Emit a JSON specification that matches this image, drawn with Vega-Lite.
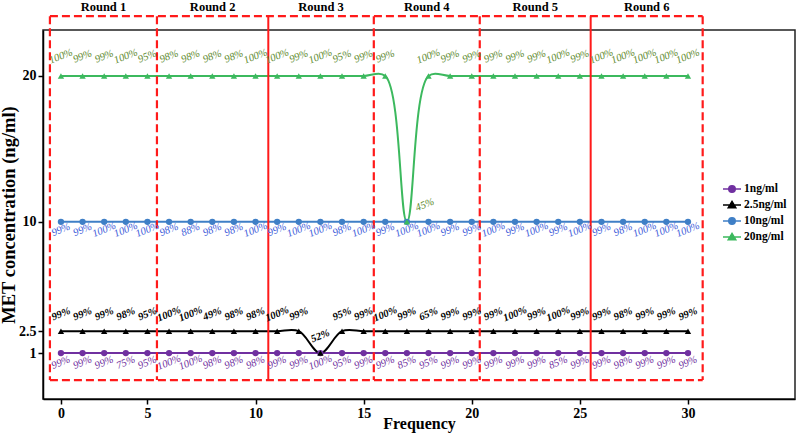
{
  "$schema": "https://vega.github.io/schema/vega-lite/v6.json",
  "width": 752,
  "height": 369,
  "autosize": {"type": "none"},
  "padding": {"left": 43, "top": 30, "right": 1, "bottom": 35},
  "background": "white",
  "view": {"stroke": "#222", "strokeWidth": 1.5},
  "config": {
    "font": "Liberation Serif",
    "axis": {"labelFont": "Liberation Serif", "labelFontWeight": "bold", "labelFontSize": 14, "labelColor": "black", "titleFont": "Liberation Serif", "titleFontWeight": "bold", "titleColor": "black", "domainColor": "black", "domainWidth": 1.5, "tickColor": "black", "tickWidth": 1.5, "tickSize": 5, "grid": false, "labelPadding": 2}
  },
  "datasets": {
    "rounds": [
      {"r": "Round 1", "a": 0.49, "b": 5.44, "top": 24.1},
      {"r": "Round 2", "a": 5.44, "b": 10.59, "top": 24.1},
      {"r": "Round 3", "a": 10.59, "b": 15.47, "top": 24.1},
      {"r": "Round 4", "a": 15.47, "b": 20.37, "top": 24.1},
      {"r": "Round 5", "a": 20.37, "b": 25.5, "top": 24.1},
      {"r": "Round 6", "a": 25.5, "b": 30.68, "top": 24.1}
    ],
    "vedges": [
      {"a": 0.49, "d": "dash", "top": 24.1, "bot": -0.85},
      {"a": 5.44, "d": "dash", "top": 24.1, "bot": -0.85},
      {"a": 10.59, "d": "solid", "top": 24.1, "bot": -0.85},
      {"a": 15.47, "d": "dash", "top": 24.1, "bot": -0.85},
      {"a": 20.37, "d": "dash", "top": 24.1, "bot": -0.85},
      {"a": 25.5, "d": "solid", "top": 24.1, "bot": -0.85},
      {"a": 30.68, "d": "dash", "top": 24.1, "bot": -0.85}
    ],
    "hedges": [
      {"a": 0.49, "b": 30.68, "y": 24.1},
      {"a": 0.49, "b": 30.68, "y": -0.85}
    ],
    "main": [
    {"s":"1ng/ml","x":1,"y":1,"p":"99%"},{"s":"1ng/ml","x":2,"y":1,"p":"99%"},{"s":"1ng/ml","x":3,"y":1,"p":"99%"},{"s":"1ng/ml","x":4,"y":1,"p":"75%"},{"s":"1ng/ml","x":5,"y":1,"p":"95%"},
    {"s":"1ng/ml","x":6,"y":1,"p":"100%"},{"s":"1ng/ml","x":7,"y":1,"p":"100%"},{"s":"1ng/ml","x":8,"y":1,"p":"98%"},{"s":"1ng/ml","x":9,"y":1,"p":"98%"},{"s":"1ng/ml","x":10,"y":1,"p":"98%"},
    {"s":"1ng/ml","x":11,"y":1,"p":"99%"},{"s":"1ng/ml","x":12,"y":1,"p":"99%"},{"s":"1ng/ml","x":13,"y":1,"p":"100%"},{"s":"1ng/ml","x":14,"y":1,"p":"95%"},{"s":"1ng/ml","x":15,"y":1,"p":"99%"},
    {"s":"1ng/ml","x":16,"y":1,"p":"99%"},{"s":"1ng/ml","x":17,"y":1,"p":"85%"},{"s":"1ng/ml","x":18,"y":1,"p":"95%"},{"s":"1ng/ml","x":19,"y":1,"p":"99%"},{"s":"1ng/ml","x":20,"y":1,"p":"99%"},
    {"s":"1ng/ml","x":21,"y":1,"p":"99%"},{"s":"1ng/ml","x":22,"y":1,"p":"99%"},{"s":"1ng/ml","x":23,"y":1,"p":"99%"},{"s":"1ng/ml","x":24,"y":1,"p":"85%"},{"s":"1ng/ml","x":25,"y":1,"p":"99%"},
    {"s":"1ng/ml","x":26,"y":1,"p":"99%"},{"s":"1ng/ml","x":27,"y":1,"p":"98%"},{"s":"1ng/ml","x":28,"y":1,"p":"99%"},{"s":"1ng/ml","x":29,"y":1,"p":"99%"},{"s":"1ng/ml","x":30,"y":1,"p":"99%"},
    {"s":"2.5ng/ml","x":1,"y":2.5,"p":"99%"},{"s":"2.5ng/ml","x":2,"y":2.5,"p":"99%"},{"s":"2.5ng/ml","x":3,"y":2.5,"p":"99%"},{"s":"2.5ng/ml","x":4,"y":2.5,"p":"98%"},{"s":"2.5ng/ml","x":5,"y":2.5,"p":"95%"},
    {"s":"2.5ng/ml","x":6,"y":2.5,"p":"100%"},{"s":"2.5ng/ml","x":7,"y":2.5,"p":"100%"},{"s":"2.5ng/ml","x":8,"y":2.5,"p":"49%"},{"s":"2.5ng/ml","x":9,"y":2.5,"p":"98%"},{"s":"2.5ng/ml","x":10,"y":2.5,"p":"98%"},
    {"s":"2.5ng/ml","x":11,"y":2.5,"p":"100%"},{"s":"2.5ng/ml","x":12,"y":2.5,"p":"99%"},{"s":"2.5ng/ml","x":13,"y":1,"p":"52%"},{"s":"2.5ng/ml","x":14,"y":2.5,"p":"95%"},{"s":"2.5ng/ml","x":15,"y":2.5,"p":"99%"},
    {"s":"2.5ng/ml","x":16,"y":2.5,"p":"100%"},{"s":"2.5ng/ml","x":17,"y":2.5,"p":"99%"},{"s":"2.5ng/ml","x":18,"y":2.5,"p":"65%"},{"s":"2.5ng/ml","x":19,"y":2.5,"p":"99%"},{"s":"2.5ng/ml","x":20,"y":2.5,"p":"99%"},
    {"s":"2.5ng/ml","x":21,"y":2.5,"p":"99%"},{"s":"2.5ng/ml","x":22,"y":2.5,"p":"100%"},{"s":"2.5ng/ml","x":23,"y":2.5,"p":"99%"},{"s":"2.5ng/ml","x":24,"y":2.5,"p":"100%"},{"s":"2.5ng/ml","x":25,"y":2.5,"p":"99%"},
    {"s":"2.5ng/ml","x":26,"y":2.5,"p":"99%"},{"s":"2.5ng/ml","x":27,"y":2.5,"p":"98%"},{"s":"2.5ng/ml","x":28,"y":2.5,"p":"99%"},{"s":"2.5ng/ml","x":29,"y":2.5,"p":"99%"},{"s":"2.5ng/ml","x":30,"y":2.5,"p":"99%"},
    {"s":"10ng/ml","x":1,"y":10,"p":"99%"},{"s":"10ng/ml","x":2,"y":10,"p":"99%"},{"s":"10ng/ml","x":3,"y":10,"p":"100%"},{"s":"10ng/ml","x":4,"y":10,"p":"100%"},{"s":"10ng/ml","x":5,"y":10,"p":"100%"},
    {"s":"10ng/ml","x":6,"y":10,"p":"98%"},{"s":"10ng/ml","x":7,"y":10,"p":"88%"},{"s":"10ng/ml","x":8,"y":10,"p":"98%"},{"s":"10ng/ml","x":9,"y":10,"p":"98%"},{"s":"10ng/ml","x":10,"y":10,"p":"100%"},
    {"s":"10ng/ml","x":11,"y":10,"p":"99%"},{"s":"10ng/ml","x":12,"y":10,"p":"100%"},{"s":"10ng/ml","x":13,"y":10,"p":"100%"},{"s":"10ng/ml","x":14,"y":10,"p":"98%"},{"s":"10ng/ml","x":15,"y":10,"p":"100%"},
    {"s":"10ng/ml","x":16,"y":10,"p":"99%"},{"s":"10ng/ml","x":17,"y":10,"p":"100%"},{"s":"10ng/ml","x":18,"y":10,"p":"100%"},{"s":"10ng/ml","x":19,"y":10,"p":"99%"},{"s":"10ng/ml","x":20,"y":10,"p":"99%"},
    {"s":"10ng/ml","x":21,"y":10,"p":"100%"},{"s":"10ng/ml","x":22,"y":10,"p":"99%"},{"s":"10ng/ml","x":23,"y":10,"p":"100%"},{"s":"10ng/ml","x":24,"y":10,"p":"99%"},{"s":"10ng/ml","x":25,"y":10,"p":"100%"},
    {"s":"10ng/ml","x":26,"y":10,"p":"99%"},{"s":"10ng/ml","x":27,"y":10,"p":"98%"},{"s":"10ng/ml","x":28,"y":10,"p":"100%"},{"s":"10ng/ml","x":29,"y":10,"p":"100%"},{"s":"10ng/ml","x":30,"y":10,"p":"100%"},
    {"s":"20ng/ml","x":1,"y":20,"p":"100%"},{"s":"20ng/ml","x":2,"y":20,"p":"99%"},{"s":"20ng/ml","x":3,"y":20,"p":"99%"},{"s":"20ng/ml","x":4,"y":20,"p":"100%"},{"s":"20ng/ml","x":5,"y":20,"p":"95%"},
    {"s":"20ng/ml","x":6,"y":20,"p":"98%"},{"s":"20ng/ml","x":7,"y":20,"p":"98%"},{"s":"20ng/ml","x":8,"y":20,"p":"98%"},{"s":"20ng/ml","x":9,"y":20,"p":"98%"},{"s":"20ng/ml","x":10,"y":20,"p":"100%"},
    {"s":"20ng/ml","x":11,"y":20,"p":"100%"},{"s":"20ng/ml","x":12,"y":20,"p":"99%"},{"s":"20ng/ml","x":13,"y":20,"p":"100%"},{"s":"20ng/ml","x":14,"y":20,"p":"95%"},{"s":"20ng/ml","x":15,"y":20,"p":"99%"},
    {"s":"20ng/ml","x":16,"y":20,"p":"99%"},{"s":"20ng/ml","x":17,"y":10,"p":"45%"},{"s":"20ng/ml","x":18,"y":20,"p":"100%"},{"s":"20ng/ml","x":19,"y":20,"p":"99%"},{"s":"20ng/ml","x":20,"y":20,"p":"99%"},
    {"s":"20ng/ml","x":21,"y":20,"p":"99%"},{"s":"20ng/ml","x":22,"y":20,"p":"99%"},{"s":"20ng/ml","x":23,"y":20,"p":"99%"},{"s":"20ng/ml","x":24,"y":20,"p":"100%"},{"s":"20ng/ml","x":25,"y":20,"p":"99%"},
    {"s":"20ng/ml","x":26,"y":20,"p":"100%"},{"s":"20ng/ml","x":27,"y":20,"p":"100%"},{"s":"20ng/ml","x":28,"y":20,"p":"100%"},{"s":"20ng/ml","x":29,"y":20,"p":"100%"},{"s":"20ng/ml","x":30,"y":20,"p":"100%"}
    ]
  },
  "layer": [
    {
      "data": {"name": "main"},
      "mark": {"type": "line", "strokeWidth": 2, "interpolate": "catmull-rom"},
      "encoding": {
        "x": {"field": "x", "type": "quantitative", "scale": {"domain": [0.17, 34.95], "nice": false, "zero": false},
          "axis": {"title": "Frequency", "titleFontSize": 16, "titlePadding": -5, "values": [1, 5, 10, 15, 20, 25, 30], "labelExpr": "datum.value == 1 ? '0' : datum.label"}},
        "y": {"field": "y", "type": "quantitative", "scale": {"domain": [-2.15, 23.15], "nice": false, "zero": false},
          "axis": {"title": "MET concentration (ng/ml)", "titleFontSize": 18.5, "titlePadding": 0, "values": [1, 2.5, 10, 20], "labelExpr": "datum.value == 2.5 ? '2.5' : format(datum.value, 'd')"}},
        "color": {"field": "s", "type": "nominal",
          "scale": {"domain": ["1ng/ml", "2.5ng/ml", "10ng/ml", "20ng/ml"], "range": ["#7030A0", "#000000", "#3F7FC6", "#3CB95E"]},
          "legend": {"orient": "none", "legendX": 679, "legendY": 152, "title": null, "labelFont": "Liberation Serif", "labelFontWeight": "bold", "labelFontSize": 11.5, "labelColor": "black", "symbolSize": 324, "clipHeight": 14, "rowPadding": 2, "labelOffset": 2,
            "encode": {"symbols": {"update": {
              "shape": {"signal": "(datum.value == '1ng/ml' || datum.value == '10ng/ml') ? 'M-1,0L1,0M0.36,0A0.36,0.36,0,1,1,-0.36,0A0.36,0.36,0,1,1,0.36,0Z' : 'M-1,0L1,0M0,-0.4L0.42,0.3L-0.42,0.3Z'"},
              "fill": {"scale": "color", "field": "value"},
              "stroke": {"scale": "color", "field": "value"},
              "strokeWidth": {"value": 1.5},
              "opacity": {"value": 1},
              "size": {"value": 324}}}}}
        }
      }
    },
    {
      "data": {"name": "main"},
      "transform": [{"filter": "datum.s == '1ng/ml' || datum.s == '10ng/ml'"}],
      "mark": {"type": "point", "shape": "circle", "filled": true, "size": 40, "opacity": 1},
      "encoding": {
        "x": {"field": "x", "type": "quantitative"},
        "y": {"field": "y", "type": "quantitative"},
        "color": {"field": "s", "type": "nominal"}
      }
    },
    {
      "data": {"name": "main"},
      "transform": [{"filter": "datum.s == '2.5ng/ml' || datum.s == '20ng/ml'"}],
      "mark": {"type": "point", "shape": "triangle-up", "filled": true, "size": 40, "opacity": 1},
      "encoding": {
        "x": {"field": "x", "type": "quantitative"},
        "y": {"field": "y", "type": "quantitative"},
        "color": {"field": "s", "type": "nominal"}
      }
    },
    {
      "data": {"name": "hedges"},
      "mark": {"type": "rule", "stroke": "#FF1A1A", "strokeWidth": 2.2, "strokeDash": [8, 4], "clip": false},
      "encoding": {
        "x": {"field": "a", "type": "quantitative"},
        "x2": {"field": "b"},
        "y": {"field": "y", "type": "quantitative"}
      }
    },
    {
      "data": {"name": "vedges"},
      "transform": [{"filter": "datum.d == 'dash'"}],
      "mark": {"type": "rule", "stroke": "#FF1A1A", "strokeWidth": 2.2, "strokeDash": [8, 4], "clip": false},
      "encoding": {
        "x": {"field": "a", "type": "quantitative"},
        "y": {"field": "top", "type": "quantitative"},
        "y2": {"field": "bot"}
      }
    },
    {
      "data": {"name": "vedges"},
      "transform": [{"filter": "datum.d == 'solid'"}],
      "mark": {"type": "rule", "stroke": "#FF1A1A", "strokeWidth": 2, "clip": false},
      "encoding": {
        "x": {"field": "a", "type": "quantitative"},
        "y": {"field": "top", "type": "quantitative"},
        "y2": {"field": "bot"}
      }
    },
    {
      "data": {"name": "rounds"},
      "transform": [{"calculate": "(datum.a + datum.b) / 2", "as": "m"}],
      "mark": {"type": "text", "font": "Liberation Serif", "fontWeight": "bold", "fontSize": 12.5, "color": "black", "baseline": "middle", "dy": -9, "clip": false},
      "encoding": {
        "x": {"field": "m", "type": "quantitative"},
        "y": {"field": "top", "type": "quantitative"},
        "text": {"field": "r"}
      }
    },
    {
      "data": {"name": "main"},
      "transform": [{"filter": "datum.s == '1ng/ml'"}],
      "mark": {"type": "text", "font": "Liberation Serif", "fontStyle": "italic", "fontSize": 10.5, "color": "#7030A0", "angle": -22, "baseline": "middle", "align": "center", "dx": -3.6, "dy": 8.8},
      "encoding": {"x": {"field": "x", "type": "quantitative"}, "y": {"field": "y", "type": "quantitative"}, "text": {"field": "p"}}
    },
    {
      "data": {"name": "main"},
      "transform": [{"filter": "datum.s == '2.5ng/ml'"}],
      "mark": {"type": "text", "font": "Liberation Serif", "fontStyle": "italic", "fontWeight": "bold", "fontSize": 10.5, "color": "black", "angle": -22, "baseline": "middle", "align": "center", "dx": 6.4, "dy": -15.8},
      "encoding": {"x": {"field": "x", "type": "quantitative"}, "y": {"field": "y", "type": "quantitative"}, "text": {"field": "p"}}
    },
    {
      "data": {"name": "main"},
      "transform": [{"filter": "datum.s == '10ng/ml'"}],
      "mark": {"type": "text", "font": "Liberation Serif", "fontStyle": "italic", "fontSize": 10.5, "color": "#3D5BD9", "angle": -22, "baseline": "middle", "align": "center", "dx": -3, "dy": 7.4},
      "encoding": {"x": {"field": "x", "type": "quantitative"}, "y": {"field": "y", "type": "quantitative"}, "text": {"field": "p"}}
    },
    {
      "data": {"name": "main"},
      "transform": [{"filter": "datum.s == '20ng/ml' && datum.x != 17"}],
      "mark": {"type": "text", "font": "Liberation Serif", "fontStyle": "italic", "fontSize": 10.5, "color": "#5E8A2E", "angle": -22, "baseline": "middle", "align": "center", "dx": 7.3, "dy": -18.1},
      "encoding": {"x": {"field": "x", "type": "quantitative"}, "y": {"field": "y", "type": "quantitative"}, "text": {"field": "p"}}
    },
    {
      "data": {"name": "main"},
      "transform": [{"filter": "datum.s == '20ng/ml' && datum.x == 17"}],
      "mark": {"type": "text", "font": "Liberation Serif", "fontStyle": "italic", "fontSize": 10.5, "color": "#5E8A2E", "angle": -22, "baseline": "middle", "align": "center", "dx": 23, "dy": -9},
      "encoding": {"x": {"field": "x", "type": "quantitative"}, "y": {"field": "y", "type": "quantitative"}, "text": {"field": "p"}}
    }
  ]
}
